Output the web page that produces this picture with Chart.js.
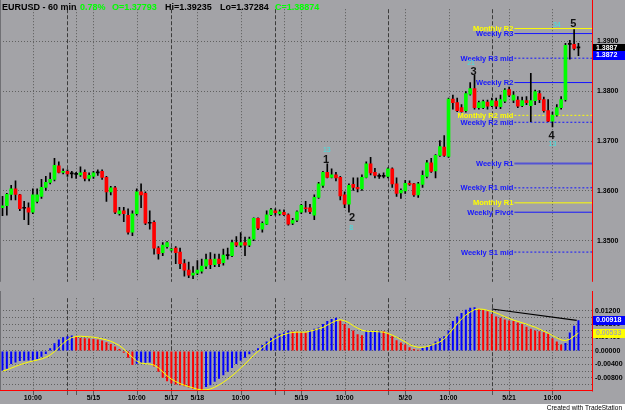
<!DOCTYPE html>
<html><head><meta charset="utf-8">
<script src="https://cdn.jsdelivr.net/npm/chart.js@4.4.1/dist/chart.umd.min.js"></script>
<style>
html,body{margin:0;padding:0;background:#a3a3a7;overflow:hidden;width:625px;height:412px}
canvas{position:absolute;left:0;display:block}
#cp{top:0}
#cm{top:291px}
</style></head><body>
<canvas id="cp" width="625" height="291"></canvas>
<canvas id="cm" width="625" height="121"></canvas>
<script>
// ---------------- data ----------------
const opens = [1.3566,1.3570,1.3593,1.3604,1.3592,1.3566,1.3566,1.3557,1.3579,1.3589,
1.3607,1.3617,1.3623,1.3650,1.3637,1.3639,1.3634,1.3634,1.3632,1.3637,
1.3625,1.3629,1.3636,1.3639,1.3627,1.3598,1.3606,1.3554,1.3560,1.3551,
1.3517,1.3554,1.3598,1.3595,1.3535,1.3537,1.3485,1.3476,1.3488,1.3481,
1.3485,1.3477,1.3454,1.3441,1.3431,1.3435,1.3439,1.3449,1.3462,1.3452,
1.3463,1.3456,1.3471,1.3470,1.3496,1.3491,1.3496,1.3491,1.3503,1.3545,
1.3523,1.3533,1.3552,1.3560,1.3554,1.3557,1.3552,1.3535,1.3541,1.3557,
1.3566,1.3566,1.3551,1.3587,1.3611,1.3637,1.3627,1.3632,1.3627,1.3592,
1.3573,1.3613,1.3607,1.3604,1.3627,1.3654,1.3637,1.3630,1.3629,1.3629,
1.3644,1.3614,1.3596,1.3600,1.3615,1.3614,1.3592,1.3613,1.3629,1.3656,
1.3640,1.3671,1.3688,1.3669,1.3784,1.3777,1.3767,1.3761,1.3794,1.3805,
1.3767,1.3767,1.3778,1.3771,1.3780,1.3769,1.3780,1.3803,1.3782,1.3782,
1.3771,1.3781,1.3771,1.3781,1.3795,1.3783,1.3761,1.3740,1.3752,1.3767,
1.3783,1.3894,1.3894,1.3887];
const highs = [1.3589,1.3595,1.3611,1.3620,1.3593,1.3579,1.3576,1.3604,1.3604,1.3623,
1.3629,1.3636,1.3665,1.3658,1.3644,1.3642,1.3639,1.3637,1.3648,1.3642,
1.3636,1.3639,1.3642,1.3642,1.3629,1.3609,1.3609,1.3567,1.3567,1.3564,
1.3560,1.3604,1.3614,1.3598,1.3560,1.3540,1.3488,1.3496,1.3498,1.3485,
1.3488,1.3485,1.3462,1.3457,1.3448,1.3460,1.3463,1.3473,1.3476,1.3473,
1.3473,1.3483,1.3485,1.3501,1.3508,1.3516,1.3507,1.3507,1.3546,1.3546,
1.3538,1.3560,1.3565,1.3564,1.3562,1.3562,1.3554,1.3545,1.3560,1.3573,
1.3579,1.3573,1.3592,1.3617,1.3639,1.3654,1.3644,1.3637,1.3629,1.3598,
1.3614,1.3626,1.3626,1.3632,1.3658,1.3667,1.3645,1.3634,1.3636,1.3646,
1.3646,1.3626,1.3604,1.3621,1.3620,1.3615,1.3617,1.3640,1.3661,1.3665,
1.3673,1.3701,1.3711,1.3786,1.3792,1.3786,1.3773,1.3799,1.3817,1.3833,
1.3780,1.3782,1.3782,1.3786,1.3786,1.3792,1.3805,1.3808,1.3799,1.3789,
1.3788,1.3789,1.3836,1.3802,1.3801,1.3788,1.3783,1.3758,1.3773,1.3789,
1.3896,1.3902,1.39235,1.3896];
const lows = [1.3550,1.3551,1.3582,1.3582,1.3560,1.3542,1.3532,1.3554,1.3576,1.3585,
1.3601,1.3614,1.3620,1.3636,1.3634,1.3629,1.3626,1.3625,1.3629,1.3620,
1.3620,1.3625,1.3631,1.3623,1.3579,1.3592,1.3554,1.3551,1.3538,1.3513,
1.3510,1.3551,1.3566,1.3532,1.3523,1.3473,1.3463,1.3470,1.3485,1.3479,
1.3454,1.3444,1.3429,1.3426,1.3424,1.3432,1.3435,1.3444,1.3444,1.3448,
1.3448,1.3451,1.3463,1.3468,1.3488,1.3487,1.3470,1.3488,1.3500,1.3522,
1.3517,1.3532,1.3550,1.3551,1.3551,1.3550,1.3531,1.3532,1.3538,1.3554,
1.3557,1.3554,1.3542,1.3585,1.3607,1.3626,1.3626,1.3620,1.3582,1.3566,
1.3557,1.3601,1.3598,1.3601,1.3626,1.3632,1.3626,1.3625,1.3626,1.3626,
1.3607,1.3589,1.3585,1.3595,1.3611,1.3589,1.3587,1.3607,1.3626,1.3637,
1.3626,1.3669,1.3669,1.3667,1.3764,1.3759,1.3758,1.3758,1.3792,1.3764,
1.3764,1.3765,1.3764,1.3769,1.3765,1.3765,1.3777,1.3789,1.3777,1.3767,
1.3769,1.3773,1.3739,1.3773,1.3777,1.3758,1.3739,1.37284,1.3750,1.3764,
1.3780,1.3864,1.3883,1.3871];
const closes = [1.3570,1.3593,1.3604,1.3593,1.3564,1.3565,1.3557,1.3592,1.3592,1.3607,
1.3617,1.3623,1.3651,1.3637,1.3639,1.3634,1.3635,1.3633,1.3636,1.3625,
1.3631,1.3636,1.3637,1.3627,1.3598,1.3606,1.3557,1.3560,1.3554,1.3517,
1.3554,1.3598,1.3592,1.3535,1.3536,1.3485,1.3474,1.3491,1.3496,1.3483,
1.3476,1.3454,1.3441,1.3431,1.3435,1.3441,1.3449,1.3462,1.3452,1.3463,
1.3454,1.3471,1.3470,1.3496,1.3491,1.3496,1.3491,1.3503,1.3545,1.3525,
1.3535,1.3552,1.3562,1.3556,1.3558,1.3552,1.3533,1.3541,1.3558,1.3571,
1.3564,1.3558,1.3587,1.3614,1.3637,1.3627,1.3632,1.3626,1.3590,1.3573,
1.3611,1.3607,1.3604,1.3627,1.3654,1.3636,1.3631,1.3629,1.3630,1.3644,
1.3614,1.3595,1.3601,1.3615,1.3613,1.3592,1.3614,1.3631,1.3656,1.3639,
1.3671,1.3689,1.3671,1.3784,1.3777,1.3761,1.3759,1.3795,1.3805,1.3767,
1.3777,1.3779,1.3770,1.3781,1.3770,1.3783,1.3802,1.3792,1.3792,1.3770,
1.3781,1.3777,1.3781,1.3799,1.3783,1.3761,1.3740,1.3752,1.3767,1.3783,
1.3892,1.3895,1.3886,1.38874];
const histogram = [-0.0059,-0.0053,-0.0039,-0.0034,-0.0030,-0.0029,-0.00285,-0.0028,-0.0024,-0.0017,
-0.0009,0.0008,0.0023,0.0034,0.0041,0.0044,0.0046,0.0042,0.0039,0.0038,
0.0037,0.0036,0.0034,0.0031,0.0026,0.0021,0.0013,0.0006,-0.0005,-0.0020,
-0.0042,-0.0038,-0.0036,-0.0035,-0.0034,-0.0046,-0.0062,-0.0080,-0.0090,-0.0097,
-0.0100,-0.0102,-0.0105,-0.0109,-0.0113,-0.0116,-0.0117,-0.0107,-0.0102,-0.0092,
-0.0083,-0.0072,-0.0062,-0.0051,-0.0039,-0.0029,-0.0020,-0.0010,-0.0004,0.0008,
0.0018,0.0028,0.0039,0.0046,0.0051,0.0055,0.0060,0.0058,0.0057,0.0056,
0.0055,0.0061,0.0066,0.0070,0.0080,0.0089,0.0095,0.0099,0.0091,0.0080,
0.0068,0.0061,0.0050,0.0047,0.0058,0.0059,0.0060,0.00605,0.0059,0.0054,
0.0044,0.0032,0.0025,0.0019,0.0011,0.0006,0.0004,0.0009,0.0014,0.0019,
0.0028,0.0038,0.0044,0.0061,0.0089,0.0103,0.0113,0.0123,0.0129,0.0130,
0.0125,0.0122,0.0118,0.0110,0.0103,0.0099,0.0094,0.0091,0.0089,0.0085,
0.0080,0.0072,0.0066,0.0061,0.0059,0.0056,0.0052,0.0038,0.0028,0.0019,
0.0024,0.0055,0.0075,0.00918];
const signalLine = [-0.0060,-0.0056,-0.0051,-0.0046,-0.0041,-0.0037,-0.0033,-0.0030,-0.0027,-0.0024,
-0.0019,-0.0012,-0.0002,0.0010,0.0023,0.0033,0.0040,0.0043,0.0044,0.0043,
0.0042,0.0041,0.0039,0.0036,0.0033,0.0029,0.0023,0.0016,0.0006,-0.0006,
-0.0019,-0.0030,-0.0036,-0.0038,-0.0039,-0.0042,-0.0050,-0.0062,-0.0074,-0.0084,
-0.0091,-0.0097,-0.0102,-0.0106,-0.0110,-0.0114,-0.0116,-0.0116,-0.0113,-0.0108,
-0.0101,-0.0093,-0.0084,-0.0074,-0.0063,-0.0051,-0.0039,-0.0026,-0.0013,-0.0001,
0.0010,0.0020,0.0029,0.0037,0.0044,0.0049,0.0053,0.0055,0.0056,0.0056,
0.0056,0.0059,0.0062,0.0066,0.0070,0.0077,0.0084,0.0090,0.0093,0.0090,
0.0084,0.0075,0.0068,0.0062,0.0059,0.0058,0.0058,0.0057,0.0056,0.0052,
0.0047,0.0041,0.0034,0.0027,0.0019,0.0014,0.0011,0.0011,0.0013,0.0017,
0.0022,0.0027,0.0036,0.0050,0.0065,0.0081,0.0095,0.0107,0.0116,0.0123,
0.0125,0.0124,0.0121,0.0118,0.0113,0.0108,0.0102,0.0097,0.0092,0.0088,
0.0084,0.0080,0.0075,0.0071,0.0065,0.0059,0.0053,0.0046,0.0039,0.0033,
0.0031,0.0035,0.0044,0.00533];
const trendLineBars = [113, 132.6];
const trendLineValues = [0.0125, 0.0091];

const timeLabels = ['10:00','5/15','10:00','5/17','5/18','10:00','5/19','10:00','5/20','10:00','5/21','10:00'];
const timeLabelBars = [7,21,31,39,45,55,69,79,93,103,117,127];
const extraGridBars = [17,65];
const sessionBars = [15,39,63,89,113];

const pivotNames = ['Monthly R2','Weekly R3','Weekly R3 mid','Weekly R2','Monthly R2 mid','Weekly R2 mid','Weekly R1','Weekly R1 mid','Monthly R1','Weekly Pivot','Weekly S1 mid'];
const pivotValues = [1.39256,1.39156,1.38662,1.38173,1.37515,1.37376,1.36549,1.36060,1.35759,1.35571,1.34771];
const pivotStartBar = 118.2;

const waveText = ['1','2','3','4','5'];
const waveBars = [74.7,80.7,108.8,126.8,131.8];
const wavePrices = [1.36618,1.35453,1.38391,1.37107,1.39350];
const fibText = ['13','8','21','13','34'];
const fibBars = [74.9,80.5,108.2,127.0,128.0];
const fibPrices = [1.36825,1.35246,1.38560,1.36938,1.39331];

const symbolTitle = 'EURUSD - 60 min';
const dayChange = '0.78%';
const dayOpen = 1.37793, dayHigh = 1.39235, dayLow = 1.37284, lastClose = 1.38874;
const lastPriceBox = 1.38874, secondPriceBox = 1.3872;
const lastHistBox = 0.00918, lastSignalBox = 0.00533;

// ---------------- layout constants ----------------
const xMin = -0.58, xMax = 136.13;
const FONT = '"Liberation Sans", Arial, sans-serif';
const GREEN = '#00ff00', RED = '#ff0000', BLUE = '#1616ff', YELLOW = '#ffff00', CYAN = '#3fe3e3';

const bars = opens.map((_, i) => i);
const wickData = bars.map(i => ({x: i, y: [lows[i], highs[i]]}));
const bodyData = bars.map(i => ({x: i, y: [opens[i], closes[i]]}));
const bodyColors = bars.map(i => Math.abs(closes[i] - opens[i]) <= 0.00011 ? '#000000' : (closes[i] > opens[i] ? GREEN : RED));
const histData = bars.map(i => ({x: i, y: histogram[i]}));
const histColors = bars.map(i => (i === 0 || histogram[i] >= histogram[i - 1]) ? '#0000ff' : RED);
const sigData = bars.map(i => ({x: i, y: signalLine[i]}));

function drawVGrid(chart, ticks) {
  const {ctx, chartArea: a, scales: {x}} = chart;
  ctx.save();
  ctx.lineWidth = 1;
  const dotted = timeLabelBars.concat(extraGridBars).filter(b => !sessionBars.includes(b));
  const lines = dotted.map(b => [b, 0]).concat(sessionBars.map(b => [b, 1]));
  for (const [b, k] of lines) {
    const px = Math.round(x.getPixelForValue(b)) + 0.5;
    ctx.strokeStyle = k ? '#3c3c3c' : '#595959';
    ctx.setLineDash(k ? [4, 2] : [1, 2]);
    ctx.beginPath(); ctx.moveTo(px, a.top); ctx.lineTo(px, a.bottom); ctx.stroke();
    if (ticks) {
      ctx.setLineDash([]);
      ctx.strokeStyle = '#555';
      ctx.beginPath(); ctx.moveTo(px, a.bottom); ctx.lineTo(px, a.bottom + 4); ctx.stroke();
    }
  }
  ctx.restore();
}
function valueBox(ctx, y, text, bg, fg) {
  ctx.fillStyle = bg;
  ctx.fillRect(593, Math.round(y) - 4, 32, 9);
  ctx.fillStyle = fg;
  ctx.font = 'bold 7px ' + FONT;
  ctx.textAlign = 'left'; ctx.textBaseline = 'middle';
  ctx.fillText(text, 596, Math.round(y) + 0.5);
}

const pricePlugin = {
  id: 'priceDeco',
  beforeDatasetsDraw(chart) {
    drawVGrid(chart, false);
  },
  afterDatasetsDraw(chart) {
    const {ctx, scales: {x, y}} = chart;
    ctx.save();
    ctx.font = 'bold 7.5px ' + FONT;
    ctx.textAlign = 'right'; ctx.textBaseline = 'middle';
    const lx = x.getPixelForValue(pivotStartBar) - 1;
    pivotNames.forEach((n, k) => {
      ctx.fillStyle = n.startsWith('Monthly') ? YELLOW : BLUE;
      ctx.fillText(n, lx, y.getPixelForValue(pivotValues[k]) + 0.5);
    });
    ctx.textAlign = 'center';
    ctx.font = 'bold 11px ' + FONT;
    ctx.fillStyle = '#111';
    waveText.forEach((t, k) => ctx.fillText(t, x.getPixelForValue(waveBars[k]), y.getPixelForValue(wavePrices[k])));
    ctx.font = '7px ' + FONT;
    ctx.fillStyle = CYAN;
    fibText.forEach((t, k) => ctx.fillText(t, x.getPixelForValue(fibBars[k]), y.getPixelForValue(fibPrices[k])));
    ctx.restore();
  },
  afterDraw(chart) {
    const {ctx, chartArea: a, scales: {y}} = chart;
    ctx.save();
    ctx.strokeStyle = '#707074'; ctx.lineWidth = 1;
    ctx.beginPath(); ctx.moveTo(0.5, 0); ctx.lineTo(0.5, a.bottom); ctx.stroke();
    ctx.strokeStyle = '#ff0000';
    ctx.beginPath(); ctx.moveTo(592.5, 0); ctx.lineTo(592.5, a.bottom); ctx.stroke();
    valueBox(ctx, y.getPixelForValue(lastPriceBox), lastPriceBox.toFixed(4), '#000000', '#ffffff');
    valueBox(ctx, y.getPixelForValue(secondPriceBox), secondPriceBox.toFixed(4), '#0000ff', '#ffffff');
    ctx.font = 'bold 9px ' + FONT;
    ctx.textAlign = 'left'; ctx.textBaseline = 'middle';
    const hdr = [[symbolTitle, 2, '#000'], [dayChange, 80, GREEN], ['O=' + dayOpen.toFixed(5), 112, GREEN],
      ['Hi=' + dayHigh.toFixed(5), 165, '#000'], ['Lo=' + dayLow.toFixed(5), 220, '#000'], ['C=' + lastClose.toFixed(5), 275, GREEN]];
    hdr.forEach(([t, px, c]) => { ctx.fillStyle = c; ctx.fillText(t, px, 8); });
    ctx.restore();
  }
};

const pivotDatasets = pivotNames.map((n, k) => ({
  type: 'line',
  data: [{x: pivotStartBar, y: pivotValues[k]}, {x: xMax, y: pivotValues[k]}],
  borderColor: n.startsWith('Monthly') ? YELLOW : (n === 'Weekly R1' ? 'rgba(40,40,235,0.65)' : BLUE),
  borderWidth: n === 'Weekly R1' ? 2 : 1,
  borderDash: n.endsWith('mid') ? [2, 2] : [],
  pointRadius: 0, tension: 0, order: 3
}));

new Chart(document.getElementById('cp'), {
  type: 'bar',
  data: {
    datasets: [
      {data: bodyData, backgroundColor: bodyColors, barThickness: 3, minBarLength: 1, grouped: false, order: 0},
      {data: wickData, backgroundColor: '#000000', barThickness: 1, grouped: false, order: 1},
      ...pivotDatasets
    ]
  },
  options: {
    responsive: false, animation: false, events: [],
    layout: {padding: 0, autoPadding: false},
    plugins: {legend: {display: false}, tooltip: {enabled: false}},
    scales: {
      x: {type: 'linear', min: xMin, max: xMax, offset: false, display: false},
      y: {
        position: 'right', min: 1.341748, max: 1.396447,
        afterFit(s) { s.width = 33; },
        ticks: {stepSize: 0.01, includeBounds: false, autoSkip: false, padding: 5, color: '#000',
          font: {family: FONT, size: 7, weight: 'bold'}, callback: v => v.toFixed(4)},
        grid: {color: '#606060', drawTicks: false, lineWidth: 1},
        border: {display: false, dash: [1, 2]}
      }
    }
  },
  plugins: [pricePlugin]
});

const macdPlugin = {
  id: 'macdDeco',
  beforeDraw(chart) {
    const {ctx} = chart;
    ctx.save();
    ctx.fillStyle = '#ffffff';
    ctx.fillRect(0, 113, 625, 8);
    ctx.restore();
  },
  beforeDatasetsDraw(chart) {
    drawVGrid(chart, true);
  },
  afterDraw(chart) {
    const {ctx, chartArea: a, scales: {x, y}} = chart;
    ctx.save();
    ctx.strokeStyle = '#707074'; ctx.lineWidth = 1;
    ctx.beginPath(); ctx.moveTo(0.5, 0); ctx.lineTo(0.5, a.bottom); ctx.stroke();
    ctx.strokeStyle = '#ff0000';
    ctx.beginPath(); ctx.moveTo(592.5, 0); ctx.lineTo(592.5, a.bottom + 0.5); ctx.stroke();
    ctx.beginPath(); ctx.moveTo(0, a.bottom - 0.5); ctx.lineTo(592.5, a.bottom - 0.5); ctx.stroke();
    valueBox(ctx, y.getPixelForValue(lastHistBox), lastHistBox.toFixed(5), '#0000ff', '#ffffff');
    valueBox(ctx, y.getPixelForValue(lastSignalBox), lastSignalBox.toFixed(5), '#ffff00', '#a8a8a8');
    ctx.font = 'bold 7px ' + FONT;
    ctx.fillStyle = '#000';
    ctx.textAlign = 'center'; ctx.textBaseline = 'middle';
    timeLabels.forEach((t, k) => ctx.fillText(t, x.getPixelForValue(timeLabelBars[k]), 107));
    ctx.font = '6.5px ' + FONT;
    ctx.textAlign = 'right';
    ctx.fillText('Created with TradeStation', 622, 117);
    ctx.restore();
  }
};

new Chart(document.getElementById('cm'), {
  type: 'bar',
  data: {
    datasets: [
      {type: 'line', data: trendLineBars.map((b, k) => ({x: b, y: trendLineValues[k]})), borderColor: '#000', borderWidth: 1.2, pointRadius: 0, order: 0},
      {type: 'line', data: sigData, borderColor: '#ffff00', borderWidth: 1, pointRadius: 0, tension: 0, order: 1},
      {data: histData, backgroundColor: histColors, barThickness: 2, inflateAmount: 0, grouped: false, order: 2}
    ]
  },
  options: {
    responsive: false, animation: false, events: [],
    layout: {padding: {top: 1, bottom: 21, left: 0, right: 0}, autoPadding: false},
    plugins: {legend: {display: false}, tooltip: {enabled: false}},
    scales: {
      x: {type: 'linear', min: xMin, max: xMax, offset: false, display: false},
      y: {
        position: 'right', min: -0.011917, max: 0.015713,
        afterFit(s) { s.width = 33; },
        ticks: {stepSize: 0.002, includeBounds: false, autoSkip: false, padding: 3, color: '#000',
          font: {family: FONT, size: 7, weight: 'bold'},
          callback: v => { const k = Math.round(v * 1000); if (k % 4 !== 0) return ''; return k === 0 ? '0.00000' : (k / 1000).toFixed(5); }},
        grid: {color: c => (c.tick && c.tick.value > 0.0125) ? 'rgba(0,0,0,0)' : '#606060', drawTicks: false, lineWidth: 1},
        border: {display: false, dash: [1, 2]}
      }
    }
  },
  plugins: [macdPlugin]
});
</script></body></html>
